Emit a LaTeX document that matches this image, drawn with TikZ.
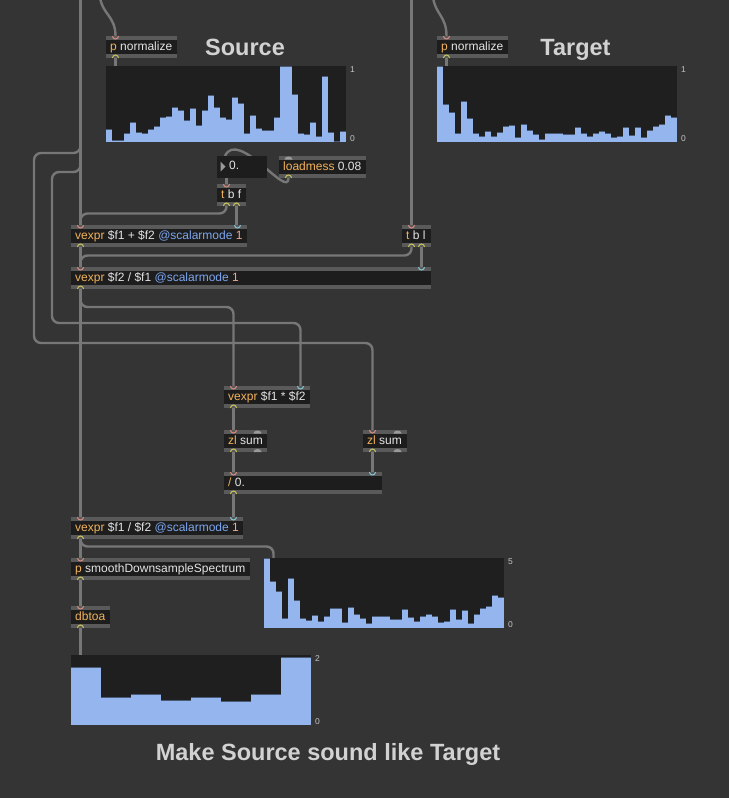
\documentclass[tikz,border=0pt]{standalone}
\usepackage{fontspec}
\setmainfont{Liberation Sans}
\usetikzlibrary{calc}
\definecolor{patchbg}{HTML}{343434}
\definecolor{boxbody}{HTML}{1D1D1D}
\definecolor{boxbar}{HTML}{5A5A5A}
\definecolor{cordgray}{HTML}{777777}
\definecolor{clsname}{HTML}{F2B25C}
\definecolor{argtxt}{HTML}{E4E4E4}
\definecolor{attrblue}{HTML}{7DA6EE}
\definecolor{attrval}{HTML}{EFA596}
\definecolor{inletred}{HTML}{D98C80}
\definecolor{inletcyan}{HTML}{86C6D6}
\definecolor{outletyel}{HTML}{C9C45E}
\definecolor{portgray}{HTML}{9A9A9A}
\definecolor{sliderbg}{HTML}{1F1F1F}
\definecolor{sliderbar}{HTML}{94B5EE}
\definecolor{titlegray}{HTML}{D2D2D2}
\definecolor{rangegray}{HTML}{C4C4C4}

\pgfdeclarelayer{canvas}
\pgfdeclarelayer{cords}
\pgfsetlayers{canvas,cords,main}

\tikzset{
  cord/.style={cordgray,line width=2.4pt,rounded corners=7pt},
  boxtext/.style={anchor=west,inner sep=0pt,text height=8.6pt,text depth=2.4pt,
    font=\fontsize{12}{12}\selectfont,text=argtxt},
  title/.style={anchor=base,inner sep=0pt,font=\fontsize{23.5}{24}\selectfont\bfseries,text=titlegray},
  rangelbl/.style={anchor=west,inner sep=0pt,font=\fontsize{8.5}{9}\selectfont,text=rangegray},
}

\newcommand{\objcls}[1]{\textcolor{clsname}{#1}}
\newcommand{\objattr}[1]{\textcolor{attrblue}{#1}}
\newcommand{\objval}[1]{\textcolor{attrval}{#1}}

% inlet / outlet marks
\newcommand{\portin}[2]{\draw[#1,line width=1pt] ($(#2)+(-3,0)$) arc[start angle=180,end angle=360,radius=3pt];}
\newcommand{\portout}[2]{\draw[#1,line width=1pt] ($(#2)+(-3,0)$) arc[start angle=180,end angle=0,radius=3pt];}
\newcommand{\portoff}[2]{\fill[portgray,shift={(#1)}] (-4,#2) arc[start angle=180,end angle=0,x radius=4pt,y radius=3pt] -- cycle;}

% object box: [inlet colour] name, x, y, width, text
\newcommand{\maxobj}[6][inletred]{%
  \fill[boxbar] (#3,#4) rectangle ++(#5,22);
  \fill[boxbody] (#3,#4+3.5) rectangle ++(#5,14.5);
  \node[boxtext] (#2) at (#3+4,#4+11) {#6};
  \coordinate (#2-in)   at (#3+9.5,#4);
  \coordinate (#2-in2)  at (#3+#5-9.5,#4);
  \coordinate (#2-out)  at (#3+9.5,#4+22);
  \coordinate (#2-out2) at (#3+#5-9.5,#4+22);
  \portin{#1}{#2-in}
  \portout{outletyel}{#2-out}
}

% multislider: name, x, y, height, bar width, max, values
\newcommand{\mslider}[7]{%
  \fill[sliderbg] (#2,#3) rectangle ++(240,#4);
  \coordinate (#1) at (#2,#3);
  \coordinate (#1-in) at (#2+9.5,#3);
  \foreach \v [count=\i from 0] in {#7} {
    \fill[sliderbar] (#2+#5*\i,#3+#4) rectangle ++(#5,-#4*\v);
    \draw[sliderbar!50!black,line width=0.7pt] (#2+#5*\i,#3+#4-#4*\v) -- ++(#5,0);
  }
  \node[rangelbl] (#1-max) at (#2+244,#3+3.5) {#6};
  \node[rangelbl] (#1-min) at (#2+244,#3+#4-3.5) {0};
}

\begin{document}
\begin{tikzpicture}[x=1pt,y=-1pt]
  \begin{pgfonlayer}{canvas}
    \fill[patchbg] (0,0) rectangle (729,798);
  \end{pgfonlayer}
  \useasboundingbox (0,0) rectangle (729,798);

  % titles
  \node[title] (srctitle) at (245,55) {Source};
  \node[title] (tgttitle) at (575.5,55) {Target};
  \node[title] (maintitle) at (328,760) {Make Source sound like Target};

  % analysis of source and target
  \maxobj{normS}{106}{36}{71}{\objcls{p} normalize}
  \maxobj{normT}{437}{36}{71}{\objcls{p} normalize}
  \mslider{srcms}{106}{66}{76}{6}{1}{0.16,0.02,0.02,0.12,0.26,0.13,0.11,0.16,0.20,0.33,
    0.34,0.45,0.41,0.29,0.44,0.22,0.42,0.61,0.45,0.32,0.30,0.59,0.51,0.12,0.35,0.18,
    0.15,0.15,0.32,1.0,1.0,0.63,0.11,0.10,0.26,0.08,0.86,0.13,0.01,0.14}
  \mslider{tgtms}{437}{66}{76}{6}{1}{1.0,0.49,0.39,0.11,0.54,0.31,0.11,0.08,0.14,0.07,
    0.13,0.21,0.22,0.06,0.23,0.15,0.10,0.04,0.12,0.12,0.12,0.10,0.10,0.19,0.11,0.08,
    0.11,0.14,0.12,0.06,0.07,0.19,0.09,0.19,0.06,0.15,0.21,0.23,0.35,0.33}

  % regularisation amount
  \fill[boxbody] (217,156) rectangle (267,177.5);
  \fill[portgray] (220.5,161.5) -- (225.5,166.5) -- (220.5,171.5) -- cycle;
  \node[boxtext] (num) at (229,166.5) {0.};
  \coordinate (num-in) at (225,156);
  \coordinate (num-out) at (226.5,177.5);
  \maxobj[draw=none]{ldm}{279}{156}{87}{\objcls{loadmess} 0.08}
  \portoff{ldm-in}{3.5}
  \maxobj{tbf}{217}{184}{29}{\objcls{t} b f}
  \portout{outletyel}{tbf-out2}
  \maxobj{vxadd}{71}{225}{176}{\objcls{vexpr} \$f1 + \$f2 \objattr{@scalarmode} \objval{1}}
  \portin{inletcyan}{vxadd-in2}
  \maxobj{tbl}{402}{225}{29}{\objcls{t} b l}
  \portout{outletyel}{tbl-out2}
  \maxobj{vxdiv}{71}{267}{360}{\objcls{vexpr} \$f2 / \$f1 \objattr{@scalarmode} \objval{1}}
  \portin{inletcyan}{vxdiv-in2}

  % gain estimate
  \maxobj{vxmul}{224}{386}{86}{\objcls{vexpr} \$f1 * \$f2}
  \portin{inletcyan}{vxmul-in2}
  \maxobj{zlL}{224}{430}{43}{\objcls{zl} sum}
  \portoff{zlL-in2}{3.5}
  \portoff{zlL-out2}{0}
  \maxobj{zlR}{363}{430}{44}{\objcls{zl} sum}
  \portoff{zlR-in2}{3.5}
  \portoff{zlR-out2}{0}
  \maxobj{div}{224}{472}{158}{\objcls{/} 0.}
  \portin{inletcyan}{div-in2}

  % correction curve
  \maxobj{vxinv}{71}{517}{172}{\objcls{vexpr} \$f1 / \$f2 \objattr{@scalarmode} \objval{1}}
  \portin{inletcyan}{vxinv-in2}
  \maxobj{smooth}{71}{558}{179}{\objcls{p} smoothDownsampleSpectrum}
  \maxobj{dbtoa}{71}{606}{39}{\objcls{dbtoa}}
  \mslider{ratioms}{264}{558}{70}{6}{5}{1.0,0.66,0.52,0.14,0.71,0.40,0.14,0.11,0.18,0.09,
    0.17,0.28,0.28,0.08,0.30,0.20,0.14,0.06,0.16,0.16,0.16,0.13,0.13,0.26,0.15,0.10,
    0.16,0.19,0.17,0.08,0.09,0.26,0.12,0.25,0.07,0.20,0.28,0.31,0.46,0.44}
  \mslider{gainms}{71}{655}{70}{30}{2}{0.83,0.40,0.44,0.35,0.39,0.34,0.44,0.97}

  % patch cords
  \coordinate (srcline) at (80.5,-3);
  \coordinate (srcfeed) at (100,-3);
  \coordinate (tgtline) at (411.5,-3);
  \coordinate (tgtfeed) at (433,-3);
  \coordinate (tapA) at (80.5,128);
  \coordinate (tapB) at (80.5,146);
  \begin{pgfonlayer}{cords}
    \draw[cord] (srcfeed) .. controls (102,14) and (115.5,16) .. (normS-in);
    \draw[cord] (normS-out) -- (srcms-in);
    \draw[cord] (srcline) -- (vxadd-in);
    \draw[cord] (tapA) |- (34,153) -- (34,343) -| (zlR-in);
    \draw[cord] (tapB) |- (52,172) -- (52,323) -| (vxmul-in2);
    \draw[cord] (tgtfeed) .. controls (435,14) and (446.5,16) .. (normT-in);
    \draw[cord] (normT-out) -- (tgtms-in);
    \draw[cord] (tgtline) -- (tbl-in);
    \draw[cord] (ldm-out) .. controls (288.5,200) and (238,128) .. (num-in);
    \draw[cord] (num-out) -- (tbf-in);
    \draw[cord] (tbf-out) |- ($(vxadd-in)+(0,-11.5)$) -- (vxadd-in);
    \draw[cord] (tbf-out2) -- (tbf-out2 |- vxadd-in2);
    \draw[cord] (vxadd-out) -- (vxdiv-in);
    \draw[cord] (tbl-out) |- ($(vxdiv-in)+(0,-11.5)$) -- (vxdiv-in);
    \draw[cord] (tbl-out2) -- (vxdiv-in2);
    \draw[cord] (vxdiv-out) |- ($(vxmul-in)+(0,-79)$) -- (vxmul-in);
    \draw[cord] (vxdiv-out) -- (vxinv-in);
    \draw[cord] (vxmul-out) -- (zlL-in);
    \draw[cord] (zlL-out) -- (div-in);
    \draw[cord] (zlR-out) -- (div-in2);
    \draw[cord] (div-out) -- (vxinv-in2);
    \draw[cord] (vxinv-out) |- ($(ratioms-in)+(0,-11.5)$) -- (ratioms-in);
    \draw[cord] (vxinv-out) -- (smooth-in);
    \draw[cord] (smooth-out) -- (dbtoa-in);
    \draw[cord] (dbtoa-out) -- (gainms-in);
  \end{pgfonlayer}
\end{tikzpicture}
\end{document}
